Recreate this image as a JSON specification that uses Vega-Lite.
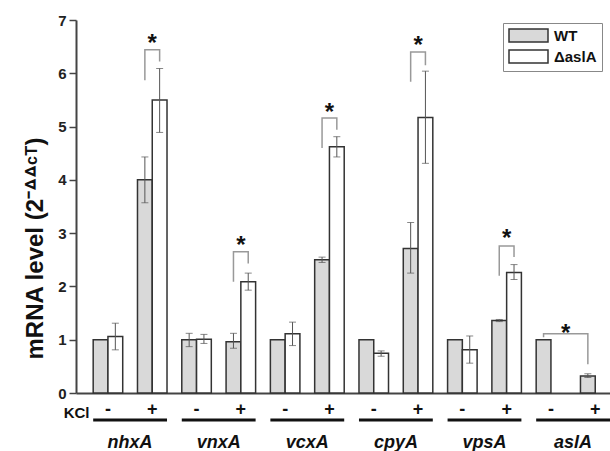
{
  "$schema": "https://vega.github.io/schema/vega-lite/v6.json",
  "width": 534,
  "height": 373,
  "autosize": {"type": "none"},
  "padding": {"left": 76, "top": 20, "right": 0, "bottom": 58},
  "config": {"view": {"stroke": null}, "font": "Liberation Sans"},
  "datasets": {
    "bars": [
      {"gene": "nhxA", "strain": "WT", "slot": "WT -", "value": 1.0},
      {"gene": "nhxA", "strain": "ΔaslA", "slot": "ΔaslA -", "value": 1.06, "lo": 0.81, "hi": 1.31},
      {"gene": "nhxA", "strain": "WT", "slot": "WT +", "value": 4.0, "lo": 3.57, "hi": 4.43},
      {"gene": "nhxA", "strain": "ΔaslA", "slot": "ΔaslA +", "value": 5.5, "lo": 4.89, "hi": 6.09},
      {"gene": "vnxA", "strain": "WT", "slot": "WT -", "value": 1.0, "lo": 0.87, "hi": 1.12},
      {"gene": "vnxA", "strain": "ΔaslA", "slot": "ΔaslA -", "value": 1.01, "lo": 0.93, "hi": 1.1},
      {"gene": "vnxA", "strain": "WT", "slot": "WT +", "value": 0.96, "lo": 0.84, "hi": 1.12},
      {"gene": "vnxA", "strain": "ΔaslA", "slot": "ΔaslA +", "value": 2.09, "lo": 1.93, "hi": 2.25},
      {"gene": "vcxA", "strain": "WT", "slot": "WT -", "value": 1.0},
      {"gene": "vcxA", "strain": "ΔaslA", "slot": "ΔaslA -", "value": 1.11, "lo": 0.89, "hi": 1.33},
      {"gene": "vcxA", "strain": "WT", "slot": "WT +", "value": 2.5, "lo": 2.45, "hi": 2.55},
      {"gene": "vcxA", "strain": "ΔaslA", "slot": "ΔaslA +", "value": 4.62, "lo": 4.43, "hi": 4.81},
      {"gene": "cpyA", "strain": "WT", "slot": "WT -", "value": 1.0},
      {"gene": "cpyA", "strain": "ΔaslA", "slot": "ΔaslA -", "value": 0.745, "lo": 0.69, "hi": 0.79},
      {"gene": "cpyA", "strain": "WT", "slot": "WT +", "value": 2.71, "lo": 2.25, "hi": 3.2},
      {"gene": "cpyA", "strain": "ΔaslA", "slot": "ΔaslA +", "value": 5.17, "lo": 4.31, "hi": 6.04},
      {"gene": "vpsA", "strain": "WT", "slot": "WT -", "value": 1.0},
      {"gene": "vpsA", "strain": "ΔaslA", "slot": "ΔaslA -", "value": 0.81, "lo": 0.56, "hi": 1.07},
      {"gene": "vpsA", "strain": "WT", "slot": "WT +", "value": 1.36, "lo": 1.34, "hi": 1.38},
      {"gene": "vpsA", "strain": "ΔaslA", "slot": "ΔaslA +", "value": 2.26, "lo": 2.13, "hi": 2.41},
      {"gene": "aslA", "strain": "WT", "slot": "WT -", "value": 1.0},
      {"gene": "aslA", "strain": "WT", "slot": "WT +", "value": 0.32, "lo": 0.29, "hi": 0.36}
    ],
    "brackets": [
      {"id": 1, "ord": 1, "gene": "nhxA", "slot": "WT +", "y": 5.87},
      {"id": 1, "ord": 2, "gene": "nhxA", "slot": "WT +", "y": 6.44},
      {"id": 1, "ord": 3, "gene": "nhxA", "slot": "ΔaslA +", "y": 6.44},
      {"id": 1, "ord": 4, "gene": "nhxA", "slot": "ΔaslA +", "y": 6.22},
      {"id": 2, "ord": 1, "gene": "vnxA", "slot": "WT +", "y": 2.09},
      {"id": 2, "ord": 2, "gene": "vnxA", "slot": "WT +", "y": 2.65},
      {"id": 2, "ord": 3, "gene": "vnxA", "slot": "ΔaslA +", "y": 2.65},
      {"id": 2, "ord": 4, "gene": "vnxA", "slot": "ΔaslA +", "y": 2.43},
      {"id": 3, "ord": 1, "gene": "vcxA", "slot": "WT +", "y": 4.6},
      {"id": 3, "ord": 2, "gene": "vcxA", "slot": "WT +", "y": 5.16},
      {"id": 3, "ord": 3, "gene": "vcxA", "slot": "ΔaslA +", "y": 5.16},
      {"id": 3, "ord": 4, "gene": "vcxA", "slot": "ΔaslA +", "y": 4.94},
      {"id": 4, "ord": 1, "gene": "cpyA", "slot": "WT +", "y": 5.84},
      {"id": 4, "ord": 2, "gene": "cpyA", "slot": "WT +", "y": 6.4},
      {"id": 4, "ord": 3, "gene": "cpyA", "slot": "ΔaslA +", "y": 6.4},
      {"id": 4, "ord": 4, "gene": "cpyA", "slot": "ΔaslA +", "y": 6.15},
      {"id": 5, "ord": 1, "gene": "vpsA", "slot": "WT +", "y": 2.2},
      {"id": 5, "ord": 2, "gene": "vpsA", "slot": "WT +", "y": 2.76},
      {"id": 5, "ord": 3, "gene": "vpsA", "slot": "ΔaslA +", "y": 2.76},
      {"id": 5, "ord": 4, "gene": "vpsA", "slot": "ΔaslA +", "y": 2.55},
      {"id": 6, "ord": 1, "gene": "aslA", "slot": "WT -", "y": 1.045},
      {"id": 6, "ord": 2, "gene": "aslA", "slot": "WT -", "y": 1.11},
      {"id": 6, "ord": 3, "gene": "aslA", "slot": "WT +", "y": 1.11},
      {"id": 6, "ord": 4, "gene": "aslA", "slot": "WT +", "y": 0.54}
    ],
    "stars": [
      {"gene": "nhxA", "slot": "WT +", "y": 6.66},
      {"gene": "vnxA", "slot": "WT +", "y": 2.87},
      {"gene": "vcxA", "slot": "WT +", "y": 5.37},
      {"gene": "cpyA", "slot": "WT +", "y": 6.62},
      {"gene": "vpsA", "slot": "WT +", "y": 3.0},
      {"gene": "aslA", "slot": "ΔaslA -", "y": 1.22}
    ],
    "signs": [
      {"gene": "nhxA", "slot": "WT -", "label": "-"},
      {"gene": "nhxA", "slot": "WT +", "label": "+"},
      {"gene": "vnxA", "slot": "WT -", "label": "-"},
      {"gene": "vnxA", "slot": "WT +", "label": "+"},
      {"gene": "vcxA", "slot": "WT -", "label": "-"},
      {"gene": "vcxA", "slot": "WT +", "label": "+"},
      {"gene": "cpyA", "slot": "WT -", "label": "-"},
      {"gene": "cpyA", "slot": "WT +", "label": "+"},
      {"gene": "vpsA", "slot": "WT -", "label": "-"},
      {"gene": "vpsA", "slot": "WT +", "label": "+"},
      {"gene": "aslA", "slot": "WT -", "label": "-"},
      {"gene": "aslA", "slot": "WT +", "label": "+"}
    ],
    "genes": [
      {"gene": "nhxA"}, {"gene": "vnxA"}, {"gene": "vcxA"},
      {"gene": "cpyA"}, {"gene": "vpsA"}, {"gene": "aslA"}
    ]
  },
  "encoding": {
    "x": {
      "field": "gene",
      "type": "nominal",
      "scale": {
        "domain": ["nhxA", "vnxA", "vcxA", "cpyA", "vpsA", "aslA"],
        "paddingInner": 0.1667,
        "paddingOuter": 0.097,
        "align": 1
      },
      "axis": {
        "title": "KCl",
        "titleX": 13,
        "titleY": 19,
        "titleAlign": "right",
        "titleBaseline": "middle",
        "titleFontSize": 15,
        "titleFontWeight": "bold",
        "titleColor": "#111",
        "labelAngle": 0,
        "labelFontSize": 18,
        "labelFontStyle": "italic",
        "labelFontWeight": "bold",
        "labelColor": "#111",
        "labelPadding": 40,
        "ticks": false,
        "tickSize": 0,
        "domainColor": "#444",
        "domainWidth": 2,
        "grid": false
      }
    }
  },
  "layer": [
    {
      "data": {"name": "bars"},
      "mark": {"type": "bar", "stroke": "#333", "strokeWidth": 1.5},
      "encoding": {
        "xOffset": {"field": "slot", "type": "nominal", "scale": {"domain": ["WT -", "ΔaslA -", "gap", "WT +", "ΔaslA +"], "paddingInner": 0, "paddingOuter": 0}},
        "y": {
          "field": "value",
          "type": "quantitative",
          "scale": {"domain": [0, 7], "nice": false},
          "title": "mRNA level (2⁻ᐞᐞᶜᵀ)",
          "axis": {
            "values": [0, 1, 2, 3, 4, 5, 6, 7],
            "format": "d",
            "titleFontSize": 24,
            "titleFontWeight": "bold",
            "titleColor": "#111",
            "titleX": -34,
            "titleY": 228,
            "titleAlign": "center",
            "titleBaseline": "alphabetic",
            "labelFontSize": 15,
            "labelFontWeight": "bold",
            "labelColor": "#222",
            "labelPadding": 3,
            "tickSize": 7,
            "tickColor": "#444",
            "tickWidth": 1.5,
            "domainColor": "#444",
            "domainWidth": 2,
            "grid": false
          }
        },
        "fill": {
          "field": "strain",
          "type": "nominal",
          "scale": {"domain": ["WT", "ΔaslA"], "range": ["#d9d9d9", "#ffffff"]},
          "legend": {
            "orient": "none",
            "legendX": 427,
            "legendY": 3,
            "title": null,
            "symbolType": "M-1,-1H5V1H-1Z",
            "symbolSize": 169,
            "symbolStrokeColor": "#333",
            "symbolStrokeWidth": 1.5,
            "labelFontSize": 15,
            "labelFontWeight": "bold",
            "labelColor": "#111",
            "labelOffset": 31,
            "strokeColor": "#888",
            "fillColor": "#ffffff",
            "padding": 5,
            "rowPadding": 2
          }
        }
      }
    },
    {
      "data": {"name": "bars"},
      "transform": [{"filter": "isValid(datum.lo)"}],
      "mark": {"type": "rule", "color": "#555", "strokeWidth": 1},
      "encoding": {
        "xOffset": {"field": "slot", "type": "nominal", "scale": {"domain": ["WT -", "ΔaslA -", "gap", "WT +", "ΔaslA +"], "paddingInner": 0, "paddingOuter": 0}},
        "y": {"field": "lo", "type": "quantitative", "scale": {"domain": [0, 7], "nice": false}, "title": "mRNA level (2⁻ᐞᐞᶜᵀ)"},
        "y2": {"field": "hi"}
      }
    },
    {
      "data": {"name": "bars"},
      "transform": [{"filter": "isValid(datum.lo)"}],
      "mark": {"type": "tick", "orient": "horizontal", "size": 7, "thickness": 1, "color": "#555"},
      "encoding": {
        "xOffset": {"field": "slot", "type": "nominal", "scale": {"domain": ["WT -", "ΔaslA -", "gap", "WT +", "ΔaslA +"], "paddingInner": 0, "paddingOuter": 0}},
        "y": {"field": "lo", "type": "quantitative", "scale": {"domain": [0, 7], "nice": false}, "title": "mRNA level (2⁻ᐞᐞᶜᵀ)"}
      }
    },
    {
      "data": {"name": "bars"},
      "transform": [{"filter": "isValid(datum.hi)"}],
      "mark": {"type": "tick", "orient": "horizontal", "size": 7, "thickness": 1, "color": "#555"},
      "encoding": {
        "xOffset": {"field": "slot", "type": "nominal", "scale": {"domain": ["WT -", "ΔaslA -", "gap", "WT +", "ΔaslA +"], "paddingInner": 0, "paddingOuter": 0}},
        "y": {"field": "hi", "type": "quantitative", "scale": {"domain": [0, 7], "nice": false}, "title": "mRNA level (2⁻ᐞᐞᶜᵀ)"}
      }
    },
    {
      "data": {"name": "brackets"},
      "mark": {"type": "line", "color": "#999", "strokeWidth": 1.5},
      "encoding": {
        "xOffset": {"field": "slot", "type": "nominal", "scale": {"domain": ["WT -", "ΔaslA -", "gap", "WT +", "ΔaslA +"], "paddingInner": 0, "paddingOuter": 0}},
        "y": {"field": "y", "type": "quantitative", "scale": {"domain": [0, 7], "nice": false}, "title": "mRNA level (2⁻ᐞᐞᶜᵀ)"},
        "detail": {"field": "id", "type": "nominal"},
        "order": {"field": "ord", "type": "quantitative"}
      }
    },
    {
      "data": {"name": "stars"},
      "mark": {"type": "text", "text": "*", "fontSize": 24, "fontWeight": "bold", "color": "#111", "dx": 7.4, "dy": 13, "baseline": "alphabetic", "align": "center"},
      "encoding": {
        "xOffset": {"field": "slot", "type": "nominal", "scale": {"domain": ["WT -", "ΔaslA -", "gap", "WT +", "ΔaslA +"], "paddingInner": 0, "paddingOuter": 0}},
        "y": {"field": "y", "type": "quantitative", "scale": {"domain": [0, 7], "nice": false}, "title": "mRNA level (2⁻ᐞᐞᶜᵀ)"}
      }
    },
    {
      "data": {"name": "signs"},
      "mark": {"type": "text", "fontSize": 18, "fontWeight": "bold", "color": "#111", "dx": 7.4, "baseline": "middle", "align": "center"},
      "encoding": {
        "xOffset": {"field": "slot", "type": "nominal", "scale": {"domain": ["WT -", "ΔaslA -", "gap", "WT +", "ΔaslA +"], "paddingInner": 0, "paddingOuter": 0}},
        "y": {"datum": -0.32, "type": "quantitative", "scale": {"domain": [0, 7], "nice": false}, "title": "mRNA level (2⁻ᐞᐞᶜᵀ)"},
        "text": {"field": "label"}
      }
    },
    {
      "data": {"name": "genes"},
      "mark": {"type": "bar", "color": "#111"},
      "encoding": {
        "y": {"datum": -0.48, "type": "quantitative", "scale": {"domain": [0, 7], "nice": false}, "title": "mRNA level (2⁻ᐞᐞᶜᵀ)"},
        "y2": {"datum": -0.535}
      }
    }
  ]
}
